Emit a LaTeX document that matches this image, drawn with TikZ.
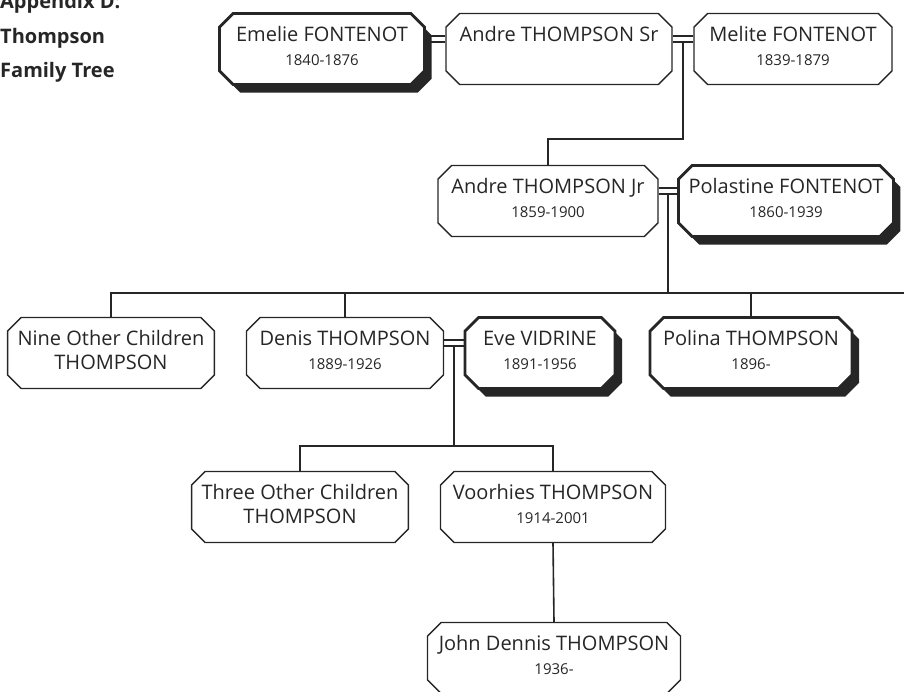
\documentclass[tikz,border=0pt]{standalone}
\usepackage{fontspec}
\setmainfont{Open Sans}
\usepackage{tikz}
\usetikzlibrary{calc}
\usetikzlibrary{shadows}
\usetikzlibrary{shapes.misc}
\definecolor{ink}{gray}{0.15}
\newcommand{\datefont}{\fontsize{15}{24}\selectfont}

\begin{document}
\begin{tikzpicture}[x=1pt,y=-1pt,
        person/.style={chamfered rectangle, chamfered rectangle xsep=10pt, draw=ink, line width=1.4pt,
            fill=white, inner sep=0pt, minimum height=71pt, align=center, text=ink,
            font=\fontsize{20}{24}\selectfont, text depth=6pt},
        wife/.style={person, line width=2.8pt,
            drop shadow={fill=ink, opacity=1, shadow xshift=7pt, shadow yshift=-8pt}},
        apptitle/.style={anchor=base west, inner sep=0pt, text=ink, font=\fontsize{20}{24}\selectfont\bfseries},
        link/.style={draw=ink, line width=1.6pt}]
        \useasboundingbox (0,0) rectangle (904,691);

        \node[apptitle]                        (apx)       at (0,8)     {Appendix D:};
        \node[apptitle]                        (fam1)      at (0,43)    {Thompson};
        \node[apptitle]                        (fam2)      at (0,77)    {Family Tree};

        \node[wife,   minimum width=205pt]     (emelie)    at (322,49)  {Emelie FONTENOT\\\datefont 1840-1876};
        \node[person, minimum width=226pt]     (sr)        at (559,49)  {Andre THOMPSON Sr\\\datefont\phantom{0}};
        \node[person, minimum width=198pt]     (melite)    at (793,49)  {Melite FONTENOT\\\datefont 1839-1879};
        \node[person, minimum width=220pt]     (jr)        at (548,201) {Andre THOMPSON Jr\\\datefont 1859-1900};
        \node[wife,   minimum width=211pt]     (polastine) at (786,201) {Polastine FONTENOT\\\datefont 1860-1939};
        \node[person, minimum width=200pt]     (nine)      at (111,353) {Nine Other Children\\THOMPSON};
        \node[person, minimum width=197pt]     (denis)     at (345,353) {Denis THOMPSON\\\datefont 1889-1926};
        \node[wife,   minimum width=150pt]     (eve)       at (540,353) {Eve VIDRINE\\\datefont 1891-1956};
        \node[wife,   minimum width=202pt]     (polina)    at (751,353) {Polina THOMPSON\\\datefont 1896-};
        \node[person, minimum width=208pt]     (three)     at (300,507) {Three Other Children\\THOMPSON};
        \node[person, minimum width=225pt]     (voorhies)  at (553,507) {Voorhies THOMPSON\\\datefont 1914-2001};
        \node[person, minimum width=253pt]     (john)      at (554,658) {John Dennis THOMPSON\\\datefont 1936-};

        \foreach \a/\b in {emelie/sr, sr/melite, jr/polastine, denis/eve} {
            \draw[link] ([yshift=13pt]\a.east) -- ([yshift=13pt]\b.west);
            \draw[link] ([yshift=7pt]\a.east)  -- ([yshift=7pt]\b.west);
        }

        \coordinate (wed1) at ($([yshift=7pt]sr.east)!0.5!([yshift=7pt]melite.west)$);
        \coordinate (wed2) at ($([yshift=7pt]jr.east)!0.5!([yshift=7pt]polastine.west)$);
        \coordinate (wed3) at ($([yshift=7pt]denis.east)!0.5!([yshift=7pt]eve.west)$);
        \coordinate (row2) at (0,139);
        \coordinate (row3) at (904,293);
        \coordinate (row4) at (0,446);

        \draw[link] (wed1) -- (wed1 |- row2) -| (jr.north);
        \draw[link] (wed2) -- (wed2 |- row3);
        \draw[link] (nine.north) |- (row3);
        \draw[link] (denis.north) -- (denis.north |- row3);
        \draw[link] (polina.north) -- (polina.north |- row3);
        \draw[link] (wed3) -- (wed3 |- row4);
        \draw[link] (three.north) |- (voorhies.north |- row4) -- (voorhies.north);
        \draw[link] (voorhies.south) -- (john.north);
    \end{tikzpicture}
\end{document}
